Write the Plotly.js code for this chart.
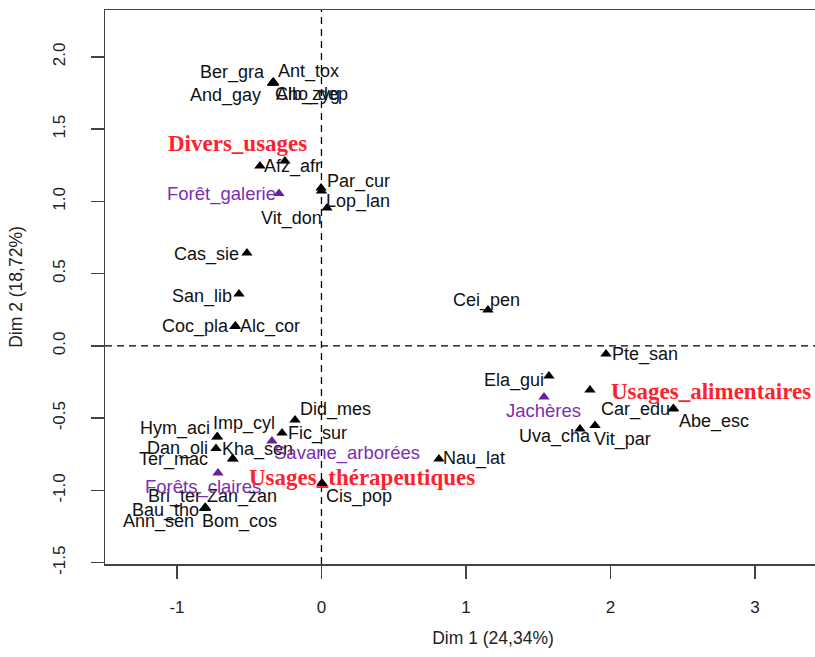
<!DOCTYPE html>
<html>
<head>
<meta charset="utf-8">
<script src="https://cdn.plot.ly/plotly-3.0.1.min.js"></script>
<style>
html,body{margin:0;padding:0;overflow:hidden;background:#fff;}
#chart{width:900px;height:657px;}
</style>
</head>
<body>
<div id="chart"></div>
<script>
// ---- Data (coordinates on Dim 1 / Dim 2) ----
const species = ["Ber_gra","Ant_tox","And_gay","Alb_zyg","Cho_dep","Afz_afr","Par_cur","Vit_don","Lop_lan",
  "Cas_sie","San_lib","Coc_pla","Alc_cor","Cei_pen","Pte_san","Ela_gui","Car_edu","Abe_esc","Uva_cha","Vit_par",
  "Nau_lat","Cis_pop","Did_mes","Fic_sur","Imp_cyl","Hym_aci","Dan_oli","Kha_sen","Ter_mac",
  "Bri_ter","Zan_zan","Bau_tho","Ann_sen","Bom_cos"];
const speciesDim1 = [-0.336,-0.333,-0.340,-0.336,-0.330,-0.426,-0.003,0.000,0.038,
  -0.516,-0.571,-0.599,-0.595,1.152,1.969,1.574,2.433,2.436,1.789,1.893,
  0.813,0.007,-0.183,-0.273,-0.723,-0.720,-0.730,-0.612,-0.615,
  -0.806,-0.804,-0.808,-0.806,-0.803];
const speciesDim2 = [1.824,1.827,1.818,1.820,1.822,1.246,1.093,1.073,0.955,
  0.644,0.360,0.135,0.138,0.249,-0.055,-0.208,-0.436,-0.433,-0.574,-0.550,
  -0.782,-0.955,-0.512,-0.602,-0.630,-0.628,-0.709,-0.782,-0.780,
  -1.121,-1.119,-1.123,-1.121,-1.118];

const habitats = ["Forêt_galerie","Jachères","Savane_arborées","Forêts_claires"];
const habitatDim1 = [-0.294,1.540,-0.343,-0.716];
const habitatDim2 = [1.055,-0.353,-0.657,-0.879];

const usages = ["Divers_usages","Usages_alimentaires","Usages_thérapeutiques"];
const usageDim1 = [-0.253,1.858,0.003];
const usageDim2 = [1.280,-0.304,-0.948];

const xTicks = [-1,0,1,2,3];
const yTicks = [-1.5,-1.0,-0.5,0.0,0.5,1.0,1.5,2.0];
const xTitle = "Dim 1 (24,34%)";
const yTitle = "Dim 2 (18,72%)";

// ---- Label placement (pixel offsets from each point, layout only) ----
const labelOffsets = {
  "Ber_gra":[-40,10],"Ant_tox":[35,10],"And_gay":[-47,-12],"Alb_zyg":[35,-12],"Cho_dep":[38,-12],
  "Afz_afr":[33,-1],"Par_cur":[37,7],"Vit_don":[-30,-28],"Lop_lan":[31,6],
  "Cas_sie":[-40,-2],"San_lib":[-37,-3],"Coc_pla":[-39,0],"Alc_cor":[35,0],"Cei_pen":[-1,9],
  "Pte_san":[39,-1],"Ela_gui":[-35,-4],"Car_edu":[-38,-1],"Abe_esc":[41,-13],"Uva_cha":[-25,-8],"Vit_par":[27,-14],
  "Nau_lat":[35,0],"Cis_pop":[37,-13],"Did_mes":[40,10],"Fic_sur":[35,-1],"Imp_cyl":[27,13],"Hym_aci":[-42,8],
  "Dan_oli":[-38,0],"Kha_sen":[24,9],"Ter_mac":[-59,-1],
  "Bri_ter":[-31,11],"Zan_zan":[37,11],"Bau_tho":[-39,-2],"Ann_sen":[-47,-14],"Bom_cos":[34,-14],
  "Forêt_galerie":[-57,0],"Jachères":[-1,-14],"Savane_arborées":[75,-12],"Forêts_claires":[-15,-14],
  "Divers_usages":[-47,18],"Usages_alimentaires":[121,-2],"Usages_thérapeutiques":[40,5]
};

const sans = "Liberation Sans, Arial, sans-serif";
const serif = "Liberation Serif, Times New Roman, serif";
const purple = "#7b2fb5";
const red = "#ff1f2f";

function markerTrace(xs, ys, names, color){
  return {type:"scatter", mode:"markers", x:xs, y:ys, text:names, hoverinfo:"text",
    marker:{symbol:"triangle-up", size:10, color:color, line:{width:0}}, showlegend:false, cliponaxis:false};
}
const traces = [
  markerTrace(speciesDim1, speciesDim2, species, "#000"),
  markerTrace(habitatDim1, habitatDim2, habitats, "#6a1fa0"),
  markerTrace(usageDim1, usageDim2, usages, "#000")
];

const annotations = [];
function addLabels(names, xs, ys, font){
  names.forEach((n,i)=>{
    const o = labelOffsets[n] || [0,0];
    annotations.push({x:xs[i], y:ys[i], xref:"x", yref:"y", text:n, showarrow:false,
      xanchor:"center", yanchor:"middle", xshift:o[0], yshift:o[1], font:font});
  });
}
addLabels(species, speciesDim1, speciesDim2, {family:sans, size:18, color:"#111"});
addLabels(habitats, habitatDim1, habitatDim2, {family:sans, size:18.5, color:purple});
addLabels(usages, usageDim1, usageDim2, {family:serif, size:23, color:red, weight:"bold"});

const layout = {
  width:900, height:657,
  margin:{l:105, r:19, t:10, b:93, pad:0},
  paper_bgcolor:"#fff", plot_bgcolor:"#fff",
  showlegend:false,
  xaxis:{range:[-1.498,3.872], tickvals:xTicks, ticktext:xTicks.map(String),
    showgrid:false, zeroline:false, showline:true, mirror:true, linecolor:"#444", linewidth:1.5,
    ticks:"outside", ticklen:13, tickwidth:1.5, tickcolor:"#444", ticklabelstandoff:14,
    tickfont:{family:sans, size:17, color:"#222"},
    title:{text:xTitle, font:{family:sans, size:17.5, color:"#222"}, standoff:16}},
  yaxis:{range:[-1.509,2.325], tickvals:yTicks, ticktext:yTicks.map(v=>v.toFixed(1)),
    showgrid:false, zeroline:false, showline:true, mirror:true, linecolor:"#444", linewidth:1.5,
    ticks:"outside", ticklen:13, tickwidth:1.5, tickcolor:"#444", tickangle:-90, ticklabelstandoff:19,
    tickfont:{family:sans, size:17, color:"#222"},
    title:{text:yTitle, font:{family:sans, size:17.5, color:"#222"}, standoff:22}},
  shapes:[
    {type:"line", xref:"x", yref:"paper", x0:0, x1:0, y0:0, y1:1, layer:"below",
      line:{color:"#000", width:1.3, dash:"7px,5px"}},
    {type:"line", xref:"paper", yref:"y", x0:0, x1:1, y0:0, y1:0, layer:"below",
      line:{color:"#000", width:1.3, dash:"7px,5px"}}
  ],
  annotations:annotations
};
Plotly.newPlot("chart", traces, layout, {displayModeBar:false, staticPlot:true});
</script>
</body>
</html>
